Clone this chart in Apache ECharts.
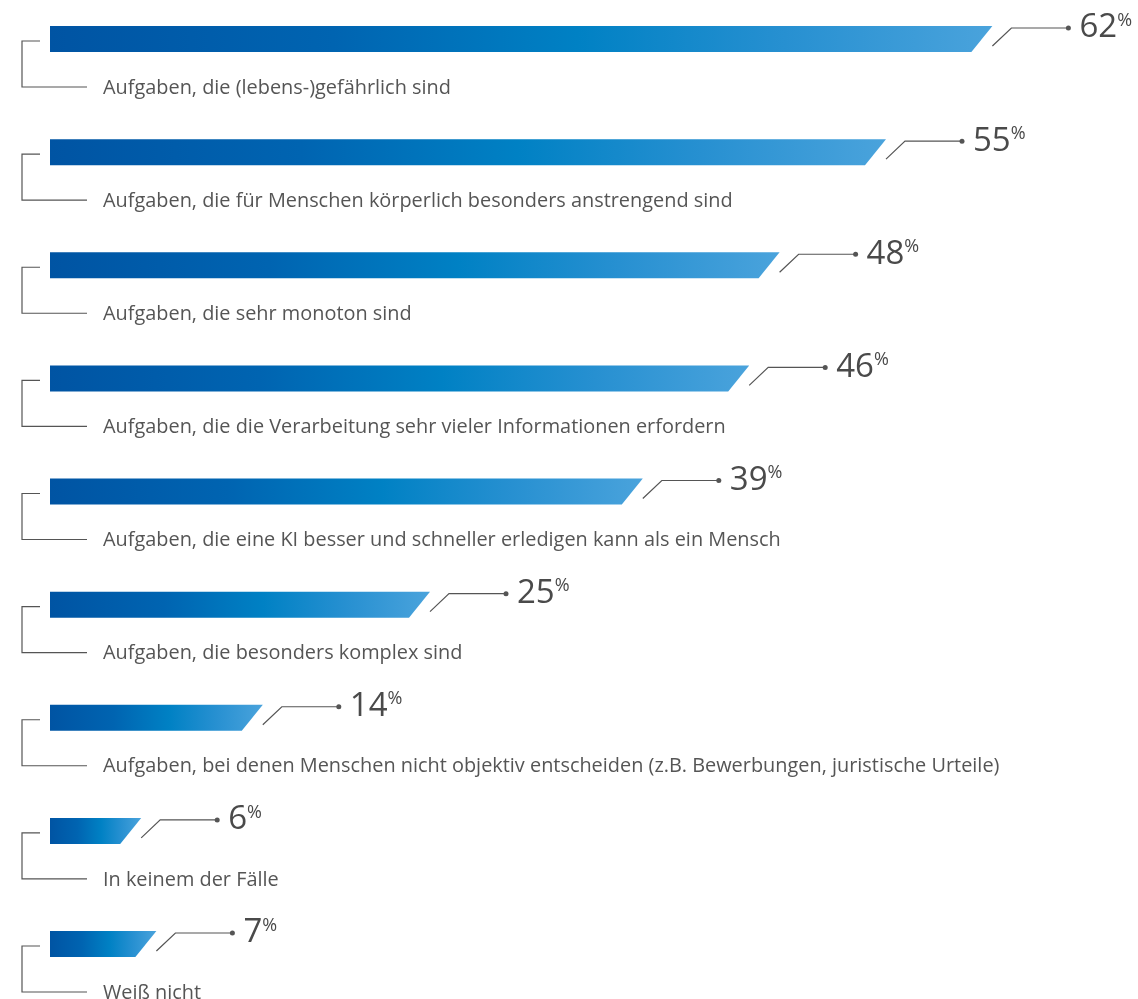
<!doctype html>
<html lang="de">
<head>
    <meta charset="UTF-8">
    <title>KI Aufgaben</title>
    <script src="https://cdn.jsdelivr.net/npm/echarts@6/dist/echarts.min.js"></script>
    <style>
        html, body { margin: 0; padding: 0; background: #fff; }
    </style>
</head>
<body>
<div id="main" style="width:1138px; height:999px;"></div>

<script>
    // Kategorien (von oben nach unten)
    var categories = [
        'Aufgaben, die (lebens-)gefährlich sind',
        'Aufgaben, die für Menschen körperlich besonders anstrengend sind',
        'Aufgaben, die sehr monoton sind',
        'Aufgaben, die die Verarbeitung sehr vieler Informationen erfordern',
        'Aufgaben, die eine KI besser und schneller erledigen kann als ein Mensch',
        'Aufgaben, die besonders komplex sind',
        'Aufgaben, bei denen Menschen nicht objektiv entscheiden (z.B. Bewerbungen, juristische Urteile)',
        'In keinem der Fälle',
        'Weiß nicht'
    ];
    // Werte in %
    var values = [62, 55, 48, 46, 39, 25, 14, 6, 7];

    var textColor = '#555';
    var fontFam = '"Open Sans", "Noto Sans", sans-serif';

    var barGradient = new echarts.graphic.LinearGradient(0, 0, 1, 0, [
        {offset: 0, color: '#0054a3'},
        {offset: 0.3, color: '#0064b1'},
        {offset: 0.56, color: '#0081c4'},
        {offset: 0.78, color: '#2790d1'},
        {offset: 1, color: '#4aa3dc'}
    ]);

    function renderRow(params, api) {
        var val = api.value(0);
        var idx = api.value(1);
        var p0 = api.coord([0, idx]);
        var p1 = api.coord([val, idx]);
        var x0 = p0[0], cy = p0[1], xr = p1[0];
        var h = 13, slant = 21;
        return {
            type: 'group',
            children: [
                {
                    type: 'polygon',
                    shape: {points: [[x0, cy - h], [xr, cy - h], [xr - slant, cy + h], [x0, cy + h]]},
                    style: {fill: barGradient}
                },
                {
                    type: 'polyline',
                    shape: {points: [[x0 - 10, cy + 2], [x0 - 28, cy + 2], [x0 - 28, cy + 48], [x0 + 37, cy + 48]]},
                    style: {stroke: textColor, lineWidth: 1.2, fill: null}
                },
                {
                    type: 'text',
                    style: {
                        x: x0 + 53, y: cy + 49,
                        text: categories[idx],
                        fill: textColor,
                        fontSize: 19.9,
                        fontFamily: fontFam,
                        verticalAlign: 'middle'
                    }
                },
                {
                    type: 'polyline',
                    shape: {points: [[xr, cy + 7], [xr + 19, cy - 11], [xr + 76, cy - 11]]},
                    style: {stroke: textColor, lineWidth: 1.2, fill: null}
                },
                {
                    type: 'circle',
                    shape: {cx: xr + 76, cy: cy - 11, r: 2.5},
                    style: {fill: textColor}
                },
                {
                    type: 'text',
                    style: {
                        x: xr + 87, y: cy - 11,
                        text: '{v|' + val + '}{p|%}',
                        verticalAlign: 'middle',
                        fill: '#4a4a4a',
                        fontFamily: fontFam,
                        rich: {
                            v: {fontSize: 33, fill: '#4a4a4a', fontFamily: fontFam},
                            p: {fontSize: 18, fill: '#4a4a4a', fontFamily: fontFam, verticalAlign: 'top'}
                        }
                    }
                }
            ]
        };
    }

    var myChart = echarts.init(document.getElementById('main'));
    myChart.setOption({
        animation: false,
        grid: {left: 50, width: 1064, top: 39, height: 905},
        xAxis: {type: 'value', min: 0, max: 70, show: false},
        yAxis: {type: 'value', min: 0, max: 8, inverse: true, show: false},
        series: [{
            type: 'custom',
            clip: false,
            renderItem: renderRow,
            data: values.map(function (v, i) { return [v, i]; })
        }]
    });
</script>
</body>
</html>
